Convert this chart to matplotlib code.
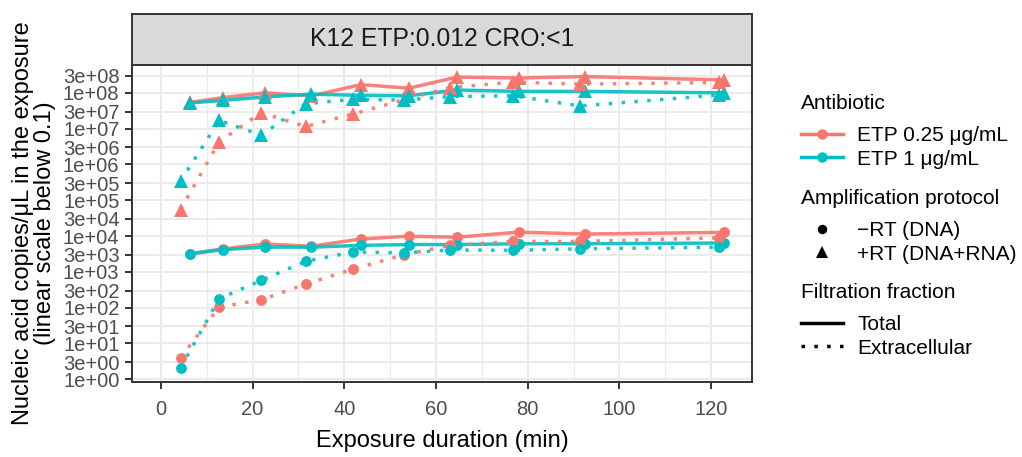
import numpy as np
import matplotlib
matplotlib.use('agg')
import matplotlib.pyplot as plt
from matplotlib.lines import Line2D
from matplotlib.ticker import FixedLocator, MultipleLocator

plt.rcParams['font.family'] = ['Liberation Sans', 'DejaVu Sans']

# sampling times (min); extracellular samples were taken a bit before the total ones
t_total = [6.3, 13.6, 22.7, 32.8, 43.6, 54.1, 64.5, 78.1, 92.5, 122.7]
t_extra = [4.3, 12.7, 21.9, 31.6, 42.0, 53.0, 63.1, 76.8, 91.4, 121.6]

# +RT (DNA+RNA)
rna_total_025 = [5.4e7, 7.4e7, 1.0e8, 8.2e7, 1.7e8, 1.35e8, 2.75e8, 2.6e8, 2.85e8, 2.3e8]
rna_total_1 = [5.2e7, 6.2e7, 7.7e7, 9.2e7, 8.5e7, 8.3e7, 1.2e8, 1.1e8, 1.1e8, 1.0e8]
rna_extra_025 = [5.5e4, 4.3e6, 2.8e7, 1.15e7, 2.6e7, 6.4e7, 1.4e8, 2.0e8, 1.75e8, 1.95e8]
rna_extra_1 = [3.4e5, 1.7e7, 6.6e6, 5.0e7, 6.6e7, 6.3e7, 7.9e7, 8.3e7, 4.3e7, 8.7e7]

# -RT (DNA)
dna_total_025 = [3.2e3, 4.4e3, 6.0e3, 5.2e3, 8.3e3, 9.9e3, 9.3e3, 1.29e4, 1.14e4, 1.27e4]
dna_total_1 = [3.2e3, 4.2e3, 4.9e3, 4.9e3, 5.5e3, 5.8e3, 5.8e3, 6.1e3, 6.1e3, 6.4e3]
dna_extra_025 = [4.0, 104, 166, 460, 1.2e3, 3.0e3, 5.5e3, 7.1e3, 7.1e3, 8.9e3]
dna_extra_1 = [2.1, 178, 580, 1.97e3, 3.6e3, 3.4e3, 4.1e3, 4.0e3, 4.4e3, 4.9e3]

y_breaks = [1, 3, 1e1, 3e1, 1e2, 3e2, 1e3, 3e3, 1e4, 3e4, 1e5, 3e5, 1e6, 3e6, 1e7, 3e7, 1e8, 3e8]
x_breaks = [0, 20, 40, 60, 80, 100, 120]

antibiotics = ['ETP 0.25 \u03bcg/mL', 'ETP 1 \u03bcg/mL']
protocols = ['\u2212RT (DNA)', '+RT (DNA+RNA)']
fractions = ['Total', 'Extracellular']
strip_label = 'K12 ETP:0.012 CRO:<1'

red = '#F8766D'
teal = '#00BFC4'
dark = '#333333'
grid = '#EBEBEB'
dotted = (0, (1, 2.7))

W, H = 1022, 457
fig = plt.figure(figsize=(W / 100, H / 100), dpi=100)
ax = fig.add_axes([132 / W, 1 - 382 / H, 620 / W, 317 / H])

series = [
    # (times, values, colour, marker, linestyle)
    (t_total, dna_total_025, red, 'o', '-'),
    (t_total, dna_total_1, teal, 'o', '-'),
    (t_extra, dna_extra_025, red, 'o', dotted),
    (t_extra, dna_extra_1, teal, 'o', dotted),
    (t_total, rna_total_025, red, '^', '-'),
    (t_total, rna_total_1, teal, '^', '-'),
    (t_extra, rna_extra_025, red, '^', dotted),
    (t_extra, rna_extra_1, teal, '^', dotted),
]

# lines first, points on top (like ggplot layers)
for t, v, c, m, ls in series:
    ax.plot(t, v, color=c, lw=2.5, linestyle=ls, alpha=0.9,
            solid_capstyle='butt', dash_capstyle='butt', zorder=2)
for t, v, c, m, ls in series:
    ax.plot(t, v, color=c, marker=m, linestyle='none',
            markersize=10.2 if m == '^' else 7.8, markeredgewidth=0, zorder=3)

ax.set_yscale('log')
ax.set_ylim(0.84, 6.0e8)
ax.set_xlim(-6.3, 128.9)
ax.yaxis.set_major_locator(FixedLocator(y_breaks))
ax.yaxis.set_minor_locator(FixedLocator([]))
ax.set_yticklabels(['{:.0e}'.format(b) for b in y_breaks])
ax.xaxis.set_major_locator(FixedLocator(x_breaks))
ax.xaxis.set_minor_locator(MultipleLocator(10))

ax.grid(True, which='major', color=grid, lw=1.5, zorder=0)
ax.grid(True, which='minor', axis='x', color=grid, lw=0.8, zorder=0)
ax.set_axisbelow(True)

for s in ax.spines.values():
    s.set_color(dark)
    s.set_linewidth(1.4)
ax.tick_params(which='major', length=5, width=1.4, color=dark,
               labelsize=14.5, labelcolor='#4D4D4D')
ax.tick_params(axis='x', which='major', pad=8)
ax.tick_params(axis='y', which='major', pad=4)
ax.tick_params(which='minor', length=0)

ax.set_xlabel('Exposure duration (min)', fontsize=17, labelpad=8)
ax.set_ylabel('Nucleic acid copies/\u03bcL in the exposure\n(linear scale below 0.1)',
              fontsize=17, labelpad=5, linespacing=1.0)

# facet strip
strip = fig.add_axes([132 / W, 1 - 65 / H, 620 / W, 51 / H])
strip.set_facecolor('#D9D9D9')
strip.set_xticks([])
strip.set_yticks([])
for s in strip.spines.values():
    s.set_color(dark)
    s.set_linewidth(1.4)
strip.text(0.5, 0.5, strip_label, ha='center', va='center', fontsize=17.8,
           color='#1A1A1A', transform=strip.transAxes)

# legends
leg_kw = dict(loc='upper left', frameon=False, fontsize=15, title_fontsize=15,
              handlelength=2.0, handletextpad=0.7, labelspacing=0.22,
              borderpad=0, borderaxespad=0, alignment='left')

h1 = [Line2D([], [], color=c, lw=2.5, marker='o', ms=7.5, markeredgewidth=0)
      for c in [red, teal]]
leg1 = fig.legend(h1, antibiotics, title='Antibiotic',
                  bbox_to_anchor=(801 / W, 1 - 94 / H), **leg_kw)

h2 = [Line2D([], [], color='black', marker=m, linestyle='none',
             ms=8.5 if m == '^' else 6.8, markeredgewidth=0)
      for m in ['o', '^']]
leg2 = fig.legend(h2, protocols, title='Amplification protocol',
                  bbox_to_anchor=(801 / W, 1 - 189 / H), **leg_kw)

h3 = [Line2D([], [], color='black', lw=2.5, linestyle=ls, dash_capstyle='butt')
      for ls in ['-', dotted]]
leg3 = fig.legend(h3, fractions, title='Filtration fraction',
                  bbox_to_anchor=(801 / W, 1 - 283 / H), **leg_kw)

# a bit more room between each legend title and its keys
for leg in [leg1, leg2, leg3]:
    leg._legend_box.sep = 9.5

fig.savefig('out.png', dpi=100)
